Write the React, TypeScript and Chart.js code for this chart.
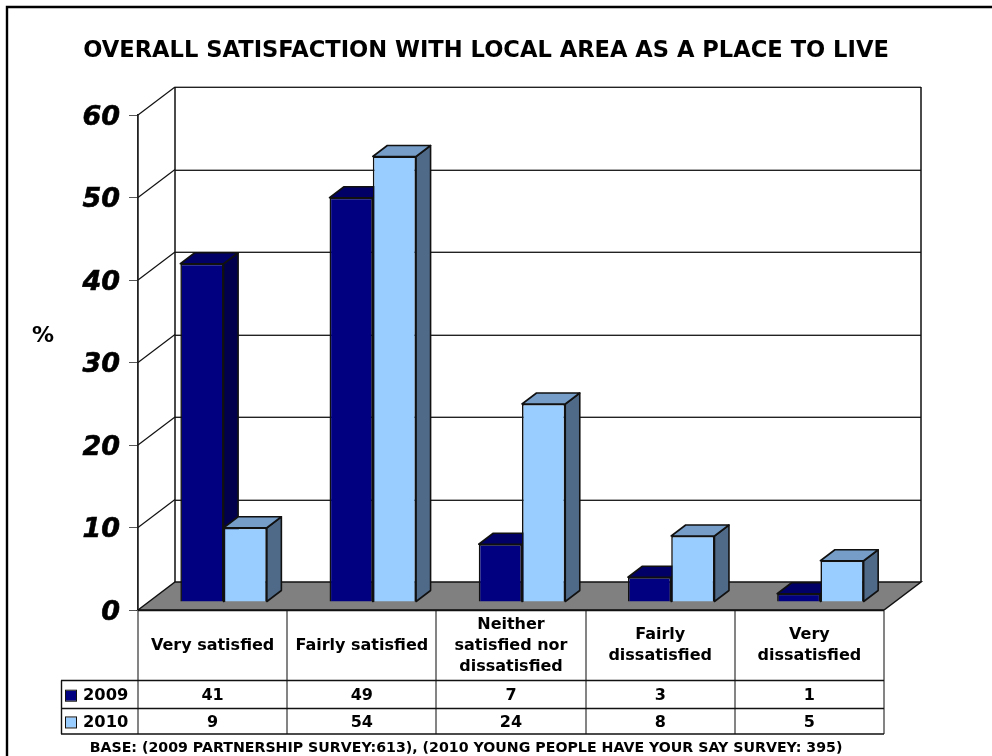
import React, { useEffect, useRef } from "react";
import { Chart, registerables } from "chart.js";

Chart.register(...registerables);

const titleText = "OVERALL SATISFACTION WITH LOCAL AREA AS A PLACE TO LIVE";
const baseText = "BASE: (2009 PARTNERSHIP SURVEY:613), (2010 YOUNG PEOPLE HAVE YOUR SAY SURVEY: 395)";
const unitText = "%";
const categories = [
  ["Very satisfied"],
  ["Fairly satisfied"],
  ["Neither", "satisfied nor", "dissatisfied"],
  ["Fairly", "dissatisfied"],
  ["Very", "dissatisfied"],
];
const series2009 = [41, 49, 7, 3, 1];
const series2010 = [9, 54, 24, 8, 5];
const seriesNames = ["2009", "2010"];

const FONT = '"DejaVu Sans"';
const DEPTH = { x: 37, y: -28 };
const BAR_SHIFT = { x: 11, y: -8 };
const BAR_DEPTH = { x: 14.5, y: -11 };
const faceColors = [
  { side: "#00004d", top: "#000066" },
  { side: "#4f6a88", top: "#759dc7" },
];

const scene = {
  id: "scene",
  beforeDatasetsDraw(chart: any) {
    const { ctx, chartArea: a, scales } = chart;
    const y = scales.y;
    const x0 = y.getPixelForValue(0);
    ctx.save();
    // back wall
    ctx.fillStyle = "#ffffff";
    ctx.fillRect(a.left + DEPTH.x, a.top + DEPTH.y, a.right - a.left, a.bottom - a.top);
    // gridlines on side and back wall
    for (const t of y.ticks) {
      const py = y.getPixelForValue(t.value);
      if (t.value === 0) continue;
      ctx.strokeStyle = "#111";
      ctx.lineWidth = 1.2;
      ctx.beginPath();
      ctx.moveTo(a.left, py);
      ctx.lineTo(a.left + DEPTH.x, py + DEPTH.y);
      ctx.stroke();
      const wy = Math.round(py + DEPTH.y);
      ctx.strokeStyle = "#aaa";
      ctx.lineWidth = 1;
      ctx.beginPath();
      ctx.moveTo(a.left + DEPTH.x, wy - 0.5);
      ctx.lineTo(a.right + DEPTH.x, wy - 0.5);
      ctx.stroke();
      ctx.strokeStyle = "#222";
      ctx.beginPath();
      ctx.moveTo(a.left + DEPTH.x, wy + 0.5);
      ctx.lineTo(a.right + DEPTH.x, wy + 0.5);
      ctx.stroke();
    }
    ctx.strokeStyle = "#111";
    ctx.lineWidth = 1.5;
    ctx.beginPath();
    ctx.moveTo(a.left + DEPTH.x, a.top + DEPTH.y);
    ctx.lineTo(a.left + DEPTH.x, x0 + DEPTH.y);
    ctx.moveTo(a.right + DEPTH.x, a.top + DEPTH.y);
    ctx.lineTo(a.right + DEPTH.x, x0 + DEPTH.y);
    ctx.stroke();
    // floor
    ctx.fillStyle = "#808080";
    ctx.strokeStyle = "#111";
    ctx.lineWidth = 1.5;
    ctx.beginPath();
    ctx.moveTo(a.left, x0);
    ctx.lineTo(a.left + DEPTH.x, x0 + DEPTH.y);
    ctx.lineTo(a.right + DEPTH.x, x0 + DEPTH.y);
    ctx.lineTo(a.right, x0);
    ctx.closePath();
    ctx.fill();
    ctx.stroke();
    ctx.restore();

    // everything belonging to the bars sits a little behind the front plane
    ctx.save();
    ctx.translate(BAR_SHIFT.x, BAR_SHIFT.y);
    chart.data.datasets.forEach((_: any, di: number) => {
      const meta = chart.getDatasetMeta(di);
      meta.data.forEach((bar: any) => {
        const w = bar.width / 2;
        const l = bar.x - w;
        const r = bar.x + w;
        const t = bar.y;
        const b = bar.base;
        const d = BAR_DEPTH;
        ctx.strokeStyle = "#111";
        ctx.lineWidth = 1.6;
        ctx.lineJoin = "round";
        ctx.fillStyle = faceColors[di].side;
        ctx.beginPath();
        ctx.moveTo(r, t);
        ctx.lineTo(r + d.x, t + d.y);
        ctx.lineTo(r + d.x, b + d.y);
        ctx.lineTo(r, b);
        ctx.closePath();
        ctx.fill();
        ctx.stroke();
        ctx.fillStyle = faceColors[di].top;
        ctx.beginPath();
        ctx.moveTo(l, t);
        ctx.lineTo(l + d.x, t + d.y);
        ctx.lineTo(r + d.x, t + d.y);
        ctx.lineTo(r, t);
        ctx.closePath();
        ctx.fill();
        ctx.stroke();
      });
    });
    // the native front faces are drawn inside this translation
  },
  afterDatasetsDraw(chart: any) {
    chart.ctx.restore();
  },
  afterDraw(chart: any) {
    const { ctx, chartArea: a } = chart;
    const rowY = [a.bottom, 680.5, 708.5, 734];
    const labelLeft = 61;
    const n = categories.length;
    const cw = (a.right - a.left) / n;
    ctx.save();
    // page frame: left and top rules only
    ctx.strokeStyle = "#000";
    ctx.lineWidth = 2.4;
    ctx.beginPath();
    ctx.moveTo(7, 756);
    ctx.lineTo(7, 7);
    ctx.lineTo(992, 7);
    ctx.stroke();

    // data table rules
    ctx.strokeStyle = "#666";
    ctx.lineWidth = 1.6;
    ctx.beginPath();
    for (let i = 0; i <= n; i++) {
      const vx = Math.round(a.left + i * cw);
      ctx.moveTo(vx, rowY[0]);
      ctx.lineTo(vx, rowY[3]);
    }
    ctx.stroke();
    ctx.lineWidth = 1.4;
    ctx.strokeStyle = "#111";
    ctx.beginPath();
    ctx.moveTo(a.left, rowY[0] + 0.5);
    ctx.lineTo(a.right, rowY[0] + 0.5);
    rowY.slice(1).forEach((ry) => {
      ctx.moveTo(labelLeft, ry);
      ctx.lineTo(a.right, ry);
    });
    ctx.moveTo(labelLeft + 0.5, rowY[1]);
    ctx.lineTo(labelLeft + 0.5, rowY[3]);
    ctx.stroke();

    ctx.fillStyle = "#000";
    ctx.textAlign = "center";
    ctx.textBaseline = "middle";

    // title
    ctx.font = `bold 22.6px ${FONT}`;
    ctx.fillText(titleText, 486, 51.5);
    // unit
    ctx.font = `bold 22px ${FONT}`;
    ctx.fillText(unitText, 43, 336);

    // category labels
    ctx.font = `bold 16px ${FONT}`;
    categories.forEach((lines, i) => {
      const cx = a.left + (i + 0.5) * cw;
      const lh = 21;
      const cy = (rowY[0] + rowY[1]) / 2 + 0.5;
      lines.forEach((s, j) => {
        ctx.fillText(s, cx, cy + (j - (lines.length - 1) / 2) * lh);
      });
    });

    // data rows
    const rows = [series2009, series2010];
    const rowColors = chart.data.datasets.map((d: any) => d.backgroundColor);
    rows.forEach((vals, ri) => {
      const cy = (rowY[ri + 1] + rowY[ri + 2]) / 2 + 1.2;
      ctx.font = `bold 16px ${FONT}`;
      vals.forEach((v, i) => {
        ctx.fillText(String(v), a.left + (i + 0.5) * cw, cy);
      });
      ctx.fillStyle = rowColors[ri];
      ctx.strokeStyle = "#111";
      ctx.lineWidth = 1;
      ctx.fillRect(66, cy - 5, 10, 10);
      ctx.strokeRect(65.5, cy - 5.5, 11, 11);
      ctx.fillStyle = "#000";
      ctx.textAlign = "left";
      ctx.font = `bold 16.3px ${FONT}`;
      ctx.fillText(seriesNames[ri], 83, cy);
      ctx.textAlign = "center";
    });

    // base note
    ctx.font = `bold 14.2px ${FONT}`;
    ctx.fillText(baseText, 466, 748.5);
    ctx.restore();
  },
};

export default function App() {
  const ref = useRef<HTMLCanvasElement>(null);
  useEffect(() => {
    const chart = new Chart(ref.current as HTMLCanvasElement, {
      type: "bar",
      data: {
        labels: categories.map((c) => c.join(" ")),
        datasets: [
          {
            label: seriesNames[0],
            data: series2009,
            backgroundColor: "#000080",
            borderColor: "#111",
            borderWidth: 1.6,
            categoryPercentage: 0.58,
            barPercentage: 1,
            clip: false,
          },
          {
            label: seriesNames[1],
            data: series2010,
            backgroundColor: "#99ccff",
            borderColor: "#111",
            borderWidth: 1.6,
            categoryPercentage: 0.58,
            barPercentage: 1,
            clip: false,
          },
        ],
      },
      options: {
        animation: false,
        responsive: false,
        devicePixelRatio: 1,
        layout: { padding: { left: 0, right: 108, top: 115, bottom: 146 } },
        plugins: { legend: { display: false }, tooltip: { enabled: false }, title: { display: false } },
        scales: {
          x: { display: false },
          y: {
            min: 0,
            max: 60,
            afterFit: (s: any) => {
              s.width = 138;
            },
            border: { display: true, color: "#222", width: 1.8 },
            grid: { drawOnChartArea: false, drawTicks: true, tickLength: 9, color: "#555" },
            ticks: {
              stepSize: 10,
              padding: 9,
              labelOffset: 2.5,
              color: "#000",
              textStrokeColor: "#000",
              textStrokeWidth: 0.6,
              font: { family: FONT, size: 27, weight: "bold", style: "italic" },
            },
          },
        },
      },
      plugins: [scene],
    } as any);
    return () => chart.destroy();
  }, []);
  return (
    <div style={{ position: "fixed", left: 0, top: 0, width: 992, height: 756, background: "#fff" }}>
      <canvas ref={ref} width={992} height={756} style={{ display: "block" }} />
    </div>
  );
}
